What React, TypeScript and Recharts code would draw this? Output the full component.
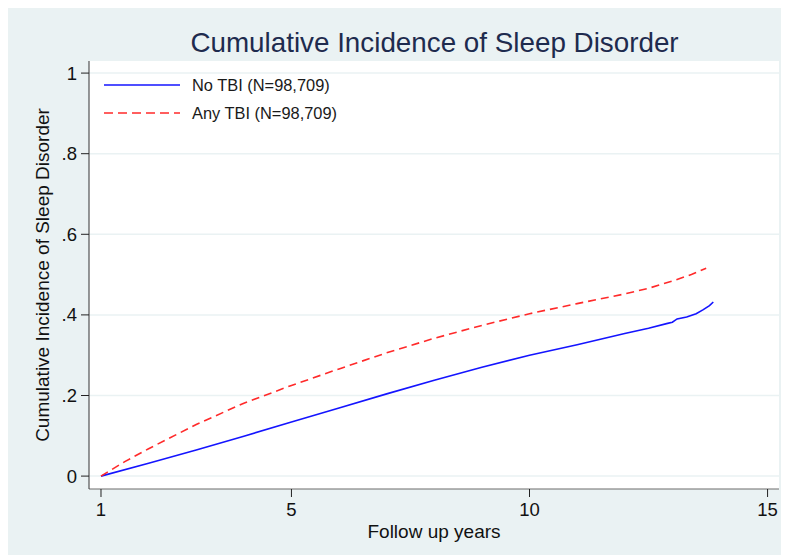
import React from "react";
import { LineChart, Line, XAxis, YAxis, CartesianGrid, Legend, Label } from "recharts";

const noTbiYears = [1, 2, 3, 4, 5, 6, 7, 8, 9, 10, 11, 12, 12.5, 12.9, 13.0, 13.1, 13.3, 13.5, 13.65, 13.78, 13.86];
const noTbiValues = [0, 0.032, 0.065, 0.099, 0.134, 0.169, 0.204, 0.238, 0.27, 0.3, 0.326, 0.354, 0.367, 0.379, 0.382, 0.39, 0.395, 0.403, 0.413, 0.423, 0.432];

const anyTbiYears = [1, 1.5, 2, 3, 4, 5, 6, 7, 8, 9, 10, 11, 12, 12.5, 13, 13.4, 13.71];
const anyTbiValues = [0, 0.036, 0.068, 0.128, 0.181, 0.225, 0.266, 0.306, 0.342, 0.374, 0.403, 0.428, 0.452, 0.466, 0.484, 0.5, 0.516];

const xTicks = [1, 5, 10, 15];
const yTicks = [0, 0.2, 0.4, 0.6, 0.8, 1];

const seriesNames = ["No TBI (N=98,709)", "Any TBI (N=98,709)"];
const seriesColors = ["#1414ff", "#ff2a2a"];

const noTbiData = noTbiYears.map((x, i) => ({ x, y: noTbiValues[i] }));
const anyTbiData = anyTbiYears.map((x, i) => ({ x, y: anyTbiValues[i] }));

const FONT = "'Liberation Sans', Arial, Helvetica, sans-serif";

const fmtY = (v: number) => (v === 0 ? "0" : v === 1 ? "1" : String(v).replace(/^0/, ""));

const LegendContent = () => (
  <div style={{ fontFamily: FONT, fontSize: 16.4, color: "#1a1a1a" }}>
    {seriesNames.map((n, i) => (
      <div key={n} style={{ display: "flex", alignItems: "center", height: 28 }}>
        <svg width={76} height={6} style={{ marginRight: 12 }}>
          <line
            x1={0}
            y1={3}
            x2={76}
            y2={3}
            stroke={seriesColors[i]}
            strokeWidth={1.6}
            strokeDasharray={i === 1 ? "9 5" : undefined}
          />
        </svg>
        <span>{n}</span>
      </div>
    ))}
  </div>
);

export default function App() {
  return (
    <div style={{ width: 781, height: 547, background: "#eaf2f3", position: "relative", fontFamily: FONT }}>
      <div
        style={{
          position: "absolute",
          left: 0,
          width: 781,
          top: 19,
          textAlign: "center",
          paddingLeft: 72,
          boxSizing: "border-box",
          fontSize: 27.8,
          lineHeight: "32px",
          color: "#1e2b4e",
          fontFamily: FONT,
        }}
      >
        Cumulative Incidence of Sleep Disorder
      </div>
      <LineChart width={781} height={547} margin={{ top: 53, right: 10, bottom: 0, left: 0 }}>
        <CartesianGrid vertical={false} stroke="#eaf2f3" strokeWidth={1.5} fill="#ffffff" horizontalValues={yTicks} />
        <XAxis
          type="number"
          dataKey="x"
          domain={[0.748, 15.24]}
          ticks={xTicks}
          allowDataOverflow
          height={66}
          tickSize={8}
          tickMargin={6}
          stroke="#6a6a6a"
          tickLine={{ stroke: "#222" }}
          tick={{ fill: "#111", fontSize: 18.5, fontFamily: FONT }}
        >
          <Label value="Follow up years" position="insideBottom" offset={17} style={{ fill: "#111", fontSize: 19, fontFamily: FONT }} />
        </XAxis>
        <YAxis
          type="number"
          domain={[-0.032, 1.03]}
          ticks={yTicks}
          allowDataOverflow
          width={81}
          tickSize={8}
          tickMargin={4}
          tickFormatter={fmtY}
          stroke="#333"
          tickLine={{ stroke: "#222" }}
          tick={{ fill: "#111", fontSize: 18.5, fontFamily: FONT }}
        >
          <Label
            value="Cumulative Incidence of Sleep Disorder"
            angle={-90}
            position="insideLeft"
            offset={34}
            style={{ textAnchor: "middle", fill: "#111", fontSize: 19, fontFamily: FONT }}
          />
        </YAxis>
        <Legend
          layout="vertical"
          verticalAlign="middle"
          align="center"
          content={<LegendContent />}
          wrapperStyle={{ left: 96, top: 63, width: 340 }}
        />
        <Line
          data={noTbiData}
          dataKey="y"
          name={seriesNames[0]}
          type="linear"
          stroke={seriesColors[0]}
          strokeWidth={1.6}
          dot={false}
          isAnimationActive={false}
        />
        <Line
          data={anyTbiData}
          dataKey="y"
          name={seriesNames[1]}
          type="linear"
          stroke={seriesColors[1]}
          strokeWidth={1.6}
          strokeDasharray="8 5"
          dot={false}
          isAnimationActive={false}
        />
      </LineChart>
    </div>
  );
}
